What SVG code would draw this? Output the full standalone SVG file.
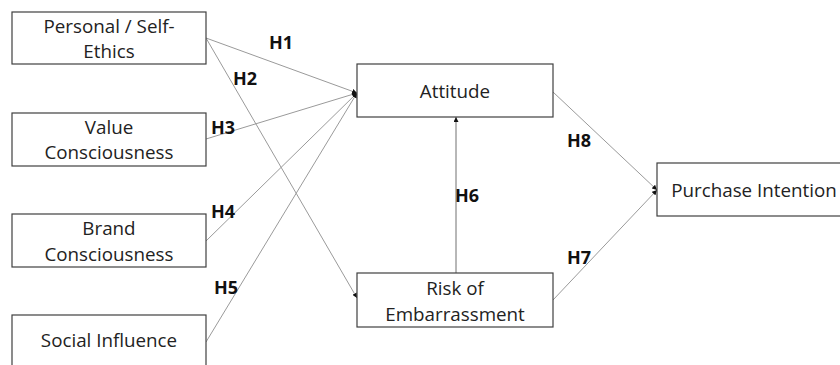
<svg xmlns="http://www.w3.org/2000/svg" width="840" height="365" viewBox="0 0 840 365">
<style>
.box{fill:#fff;stroke:#404040;stroke-width:1.2}
.t{font-family:"Open Sans","Liberation Sans",sans-serif;font-size:18.8px;fill:#222;text-anchor:middle}
.h{font-family:"Open Sans","Liberation Sans",sans-serif;font-size:18px;font-weight:bold;fill:#111}
.c{stroke:#9a9a9a;stroke-width:1;fill:none;marker-end:url(#ah)}
</style>
<defs>
<marker id="ah" viewBox="0 0 6 6" refX="6" refY="3" markerWidth="5" markerHeight="5" markerUnits="userSpaceOnUse" orient="auto">
<path d="M0,0 L6,3 L0,6 z" fill="#111"/>
</marker>
</defs>
<rect width="840" height="365" fill="#fff"/>
<g id="connectors">
<line class="c" x1="206" y1="38" x2="357" y2="93"/>
<line class="c" x1="206" y1="38" x2="357" y2="298"/>
<line class="c" x1="206" y1="139" x2="357" y2="93"/>
<line class="c" x1="206" y1="241" x2="357" y2="93"/>
<line class="c" x1="206" y1="342" x2="357" y2="93"/>
<line class="c" x1="456" y1="273" x2="456" y2="117" style="stroke:#707070"/>
<line class="c" x1="553" y1="92" x2="657" y2="190"/>
<line class="c" x1="553" y1="300" x2="657" y2="190"/>
</g>
<g id="labels">
<text class="h" x="269" y="49">H1</text>
<text class="h" x="233" y="85">H2</text>
<text class="h" x="211" y="134">H3</text>
<text class="h" x="211" y="218">H4</text>
<text class="h" x="214" y="294">H5</text>
<text class="h" x="455" y="202">H6</text>
<text class="h" x="567" y="147">H8</text>
<text class="h" x="567" y="264">H7</text>
</g>
<g id="personal">
<rect class="box" x="12" y="12" width="194" height="52"/>
<text class="t" x="109" y="33">Personal / Self-</text>
<text class="t" x="109" y="58">Ethics</text>
</g>
<g id="value">
<rect class="box" x="12" y="113" width="194" height="53"/>
<text class="t" x="109" y="134">Value</text>
<text class="t" x="109" y="159">Consciousness</text>
</g>
<g id="brand">
<rect class="box" x="12" y="214" width="194" height="53"/>
<text class="t" x="109" y="235">Brand</text>
<text class="t" x="109" y="261">Consciousness</text>
</g>
<g id="social">
<rect class="box" x="12" y="315" width="194" height="60"/>
<text class="t" x="109" y="347">Social Influence</text>
</g>
<g id="attitude">
<rect class="box" x="357" y="64" width="196" height="53"/>
<text class="t" x="455" y="98">Attitude</text>
</g>
<g id="risk">
<rect class="box" x="357" y="273" width="196" height="54"/>
<text class="t" x="455" y="295">Risk of</text>
<text class="t" x="455" y="321">Embarrassment</text>
</g>
<g id="purchase">
<rect class="box" x="657" y="163" width="200" height="53"/>
<text class="t" x="754" y="197">Purchase Intention</text>
</g>
</svg>
